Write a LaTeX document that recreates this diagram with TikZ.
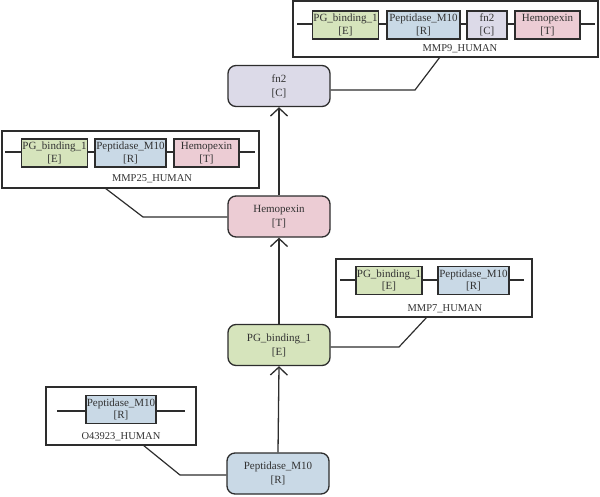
\documentclass[tikz,border=0pt]{standalone}
\usepackage{fontspec}
\setmainfont{Liberation Serif}
\usetikzlibrary{arrows.meta}
\definecolor{cE}{RGB}{214,228,188}
\definecolor{cR}{RGB}{201,217,230}
\definecolor{cC}{RGB}{220,218,232}
\definecolor{cT}{RGB}{236,204,212}
\definecolor{ln}{RGB}{45,45,45}
\definecolor{tx}{RGB}{50,50,50}
\tikzset{
  mainnode/.style={draw=ln, line width=1.3pt, rounded corners=8pt, minimum width=102pt, minimum height=41pt, align=center, inner sep=0pt, text=tx, font=\rmfamily\fontsize{11}{14}\selectfont},
  dom/.style={draw=ln, line width=1.6pt, minimum height=28pt, align=center, inner sep=1pt, text=tx, font=\rmfamily\fontsize{11}{12.5}\selectfont},
  outer/.style={draw=ln, line width=1.2pt, fill=white},
  conn/.style={draw=ln, line width=1.2pt},
  flow/.style={draw=ln, line width=1.3pt, -{Straight Barb[length=8pt, width=17pt]}},
  lbl/.style={font=\rmfamily\fontsize{10.5}{12}\selectfont, text=tx, inner sep=0pt},
}
\begin{document}
\begin{tikzpicture}[x=1pt, y=-1pt]
\useasboundingbox (0,0) rectangle (600,496);
% main nodes
\node[mainnode, fill=cC] (fn2) at (279,86) {fn2\\{}[C]};
\node[mainnode, fill=cT] (hem) at (279,216.5) {Hemopexin\\{}[T]};
\node[mainnode, fill=cE] (pg) at (279,345) {PG\_binding\_1\\{}[E]};
\node[mainnode, fill=cR] (pep) at (278,473.5) {Peptidase\_M10\\{}[R]};
\draw[flow] (pep.north) -- (pg.south);
\draw[flow] (pg.north) -- (hem.south);
\draw[flow] (hem.north) -- (fn2.south);

% MMP9 box
\path[outer] (293,1) rectangle (598,57);
\coordinate (m9l) at (297,24); \coordinate (m9r) at (595,24);
\draw[conn] (m9l) -- (m9r);
\node[dom, fill=cE, minimum width=65pt] (m9a) at (345.5,25) {PG\_binding\_1\\{}[E]};
\node[dom, fill=cR, minimum width=73pt] (m9b) at (423.5,25) {Peptidase\_M10\\{}[R]};
\node[dom, fill=cC, minimum width=40pt] (m9c) at (487,25) {fn2\\{}[C]};
\node[dom, fill=cT, minimum width=65pt] (m9d) at (547.5,25) {Hemopexin\\{}[T]};
\node[lbl] (m9lab) at (460,49) {MMP9\_HUMAN};
\coordinate (m9b1) at (415,90); \coordinate (m9b2) at (440,57);
\draw[conn] (fn2.east |- m9b1) -- (m9b1) -- (m9b2);

% MMP25 box
\path[outer] (2,131) rectangle (259,188);
\coordinate (m25l) at (5,152); \coordinate (m25r) at (255,152);
\draw[conn] (m25l) -- (m25r);
\node[dom, fill=cE, minimum width=65pt] (m25a) at (54.5,153) {PG\_binding\_1\\{}[E]};
\node[dom, fill=cR, minimum width=71pt] (m25b) at (130.5,153) {Peptidase\_M10\\{}[R]};
\node[dom, fill=cT, minimum width=65pt] (m25c) at (206.5,153) {Hemopexin\\{}[T]};
\node[lbl] (m25lab) at (152,179) {MMP25\_HUMAN};
\coordinate (m25b1) at (105,188); \coordinate (m25b2) at (143,217);
\draw[conn] (m25b1) -- (m25b2) -- (hem.west |- m25b2);

% MMP7 box
\path[outer] (336,259) rectangle (532,317);
\coordinate (m7l) at (340,280); \coordinate (m7r) at (524,280);
\draw[conn] (m7l) -- (m7r);
\node[dom, fill=cE, minimum width=64pt] (m7a) at (389,280.5) {PG\_binding\_1\\{}[E]};
\node[dom, fill=cR, minimum width=71pt] (m7b) at (473.5,280.5) {Peptidase\_M10\\{}[R]};
\node[lbl] (m7lab) at (445,309) {MMP7\_HUMAN};
\coordinate (m7b1) at (399,347); \coordinate (m7b2) at (427,317);
\draw[conn] (pg.east |- m7b1) -- (m7b1) -- (m7b2);

% O43923 box
\path[outer] (46,387) rectangle (196,445);
\coordinate (o4l) at (57,411); \coordinate (o4r) at (185,411);
\draw[conn] (o4l) -- (o4r);
\node[dom, fill=cR, minimum width=70pt] (o4a) at (121,409.5) {Peptidase\_M10\\{}[R]};
\node[lbl] (o4lab) at (121,437) {O43923\_HUMAN};
\coordinate (o4b1) at (143,445); \coordinate (o4b2) at (180,475);
\draw[conn] (o4b1) -- (o4b2) -- (pep.west |- o4b2);
\end{tikzpicture}
\end{document}
